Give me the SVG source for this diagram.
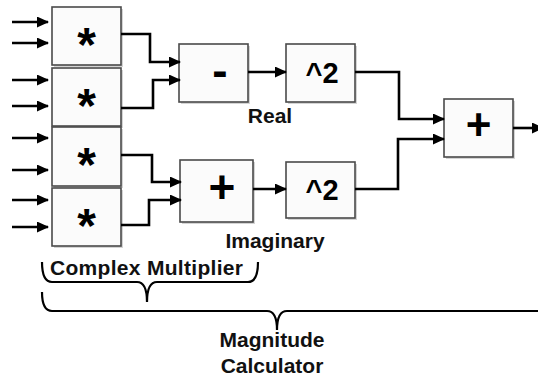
<svg xmlns="http://www.w3.org/2000/svg" width="538" height="379" viewBox="0 0 538 379">
<style>
.box{fill:#fbfbfb;stroke:#4a4a4a;stroke-width:1.6}
.sh{fill:#d4d4d4}
.sym{font-family:"Liberation Sans",Arial,sans-serif;font-weight:bold;fill:#000;text-anchor:middle}
.ast{font-size:48px}
.lbl{font-family:"Liberation Sans",Arial,sans-serif;font-weight:bold;font-size:21px;fill:#111}
.w{fill:none;stroke:#000;stroke-width:2.6}
.br{fill:none;stroke:#000;stroke-width:2.2}
</style>
<defs>
<marker id="ah" markerUnits="userSpaceOnUse" markerWidth="12" markerHeight="11" refX="11" refY="5.5" orient="auto">
<path d="M0,0 L12,5.5 L0,11 z" fill="#000"/>
</marker>
</defs>
<g id="mul1"><rect class="sh" x="54" y="9" width="69" height="58"/><rect class="box" x="52" y="7" width="69" height="58"/><text class="sym ast" x="86.5" y="61">*</text></g>
<g id="mul2"><rect class="sh" x="54" y="70" width="69" height="58"/><rect class="box" x="52" y="68" width="69" height="58"/><text class="sym ast" x="86.5" y="122">*</text></g>
<g id="mul3"><rect class="sh" x="54" y="129" width="69" height="59"/><rect class="box" x="52" y="127" width="69" height="59"/><text class="sym ast" x="86.5" y="181">*</text></g>
<g id="mul4"><rect class="sh" x="54" y="190" width="69" height="58"/><rect class="box" x="52" y="188" width="69" height="58"/><text class="sym ast" x="86.5" y="242">*</text></g>
<g id="sub"><rect class="sh" x="181" y="46" width="69" height="58"/><rect class="box" x="179" y="44" width="69" height="58"/><text class="sym" x="220" y="86" font-size="46">-</text></g>
<g id="add1"><rect class="sh" x="182" y="162" width="73" height="62"/><rect class="box" x="180" y="160" width="73" height="62"/><text class="sym" x="222" y="203" font-size="46">+</text></g>
<g id="sq1"><rect class="sh" x="288" y="46" width="69" height="58"/><rect class="box" x="286" y="44" width="69" height="58"/><text class="sym" x="322" y="83" font-size="29">^2</text></g>
<g id="sq2"><rect class="sh" x="288" y="164" width="69" height="56"/><rect class="box" x="286" y="162" width="69" height="56"/><text class="sym" x="322" y="200" font-size="29">^2</text></g>
<g id="add2"><rect class="sh" x="446" y="101" width="69" height="58"/><rect class="box" x="444" y="99" width="69" height="58"/><text class="sym" x="478.5" y="140" font-size="44">+</text></g>
<g id="connectors">
<path class="w" marker-end="url(#ah)" d="M12,22 H48"/>
<path class="w" marker-end="url(#ah)" d="M12,43 H48"/>
<path class="w" marker-end="url(#ah)" d="M12,80 H48"/>
<path class="w" marker-end="url(#ah)" d="M12,106 H48"/>
<path class="w" marker-end="url(#ah)" d="M12,138 H48"/>
<path class="w" marker-end="url(#ah)" d="M12,170 H48"/>
<path class="w" marker-end="url(#ah)" d="M12,200 H48"/>
<path class="w" marker-end="url(#ah)" d="M12,227 H48"/>
<path class="w" marker-end="url(#ah)" d="M121,34 H150 V62 H180"/>
<path class="w" marker-end="url(#ah)" d="M121,108 H153 V80 H180"/>
<path class="w" marker-end="url(#ah)" d="M121,155 H152 V182 H181"/>
<path class="w" marker-end="url(#ah)" d="M121,225 H149 V200 H181"/>
<path class="w" marker-end="url(#ah)" d="M248,72 H286"/>
<path class="w" marker-end="url(#ah)" d="M253,189 H286"/>
<path class="w" marker-end="url(#ah)" d="M355,72 H399 V119 H444"/>
<path class="w" marker-end="url(#ah)" d="M355,189 H398 V139 H444"/>
<path class="w" marker-end="url(#ah)" d="M513,128 H543"/>
</g>
<g id="labels">
<text class="lbl" x="270" y="123" text-anchor="middle">Real</text>
<text class="lbl" x="275" y="248" text-anchor="middle">Imaginary</text>
<text class="lbl" x="50" y="275" textLength="193">Complex Multiplier</text>
<text class="lbl" x="272" y="347" text-anchor="middle">Magnitude</text>
<text class="lbl" x="272" y="373" text-anchor="middle">Calculator</text>
</g>
<g id="braces">
<path class="br" d="M42,262 Q42,282 52,282 L137,282 Q147,282 147,302 Q147,282 157,282 L248,282 Q258,282 258,262"/>
<path class="br" d="M42,292 Q42,311 52,311 L267,311 Q277,311 277,330 Q277,311 287,311 L540,311"/>
</g>
</svg>
